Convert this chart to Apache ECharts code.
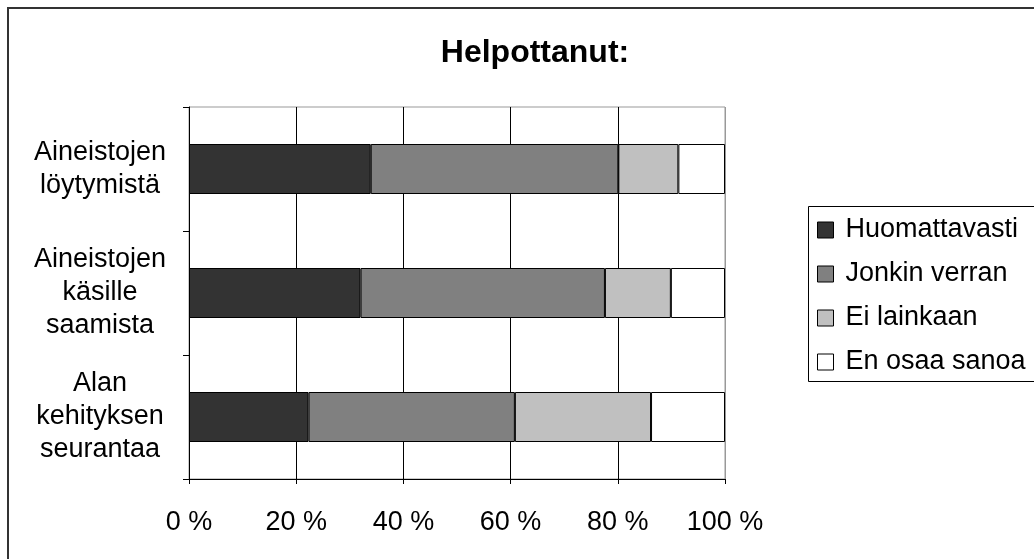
<!DOCTYPE html>
<html>
<head>
<meta charset="utf-8">
<script src="https://cdn.jsdelivr.net/npm/echarts@6/dist/echarts.min.js"></script>
<style>
html,body{margin:0;padding:0;background:#fff;}
#chart{width:1034px;height:559px;}
</style>
</head>
<body>
<div id="chart"></div>
<script>
const titleText = 'Helpottanut:';
const categories = ['Aineistojen\nlöytymistä', 'Aineistojen\nkäsille\nsaamista', 'Alan\nkehityksen\nseurantaa'];
const seriesNames = ['Huomattavasti', 'Jonkin verran', 'Ei lainkaan', 'En osaa sanoa'];
const huomattavasti = [33.9, 32.0, 22.3];
const jonkinVerran = [46.2, 45.6, 38.5];
const eiLainkaan = [11.2, 12.3, 25.4];
const enOsaaSanoa = [8.7, 10.1, 13.8];
const seriesColors = ['#333333', '#808080', '#c0c0c0', '#ffffff'];

const values = [huomattavasti, jonkinVerran, eiLainkaan, enOsaaSanoa];
const FONT = 'Liberation Sans, Arial, sans-serif';

const chart = echarts.init(document.getElementById('chart'), null, {renderer: 'canvas'});
chart.setOption({
  backgroundColor: '#ffffff',
  animation: false,
  title: {
    text: titleText,
    left: 530,
    textAlign: 'center',
    top: 32,
    textStyle: {fontFamily: FONT, fontSize: 32, fontWeight: 'bold', color: '#000'}
  },
  graphic: [
    {type: 'rect', shape: {x: 8, y: 8, width: 1040, height: 560}, style: {fill: 'none', stroke: '#333', lineWidth: 2}, silent: true},
    {type: 'rect', shape: {x: 808.5, y: 206.5, width: 240, height: 175}, style: {fill: '#fff', stroke: '#000', lineWidth: 1}, silent: true, z: -1}
  ],
  legend: {
    orient: 'vertical',
    left: 817,
    top: 214,
    padding: 0,
    itemWidth: 16,
    itemHeight: 16,
    itemGap: 12,
    icon: 'rect',
    data: seriesNames,
    itemStyle: {borderColor: '#000', borderWidth: 1},
    textStyle: {fontFamily: FONT, fontSize: 27, color: '#000', lineHeight: 32, padding: [0, 0, 0, 7]}
  },
  grid: {
    left: 189, right: 309, top: 107, bottom: 80,
    show: true, borderColor: '#999', borderWidth: 1, backgroundColor: 'transparent'
  },
  xAxis: {
    type: 'value',
    min: 0, max: 100, interval: 20,
    axisLine: {show: true, lineStyle: {color: '#000', width: 1}},
    axisTick: {show: true, length: 5, lineStyle: {color: '#000'}},
    splitLine: {show: true, lineStyle: {color: ['#000', '#000', '#000', '#000', '#000', '#999'], width: 1}},
    axisLabel: {formatter: '{value} %', fontFamily: FONT, fontSize: 27, color: '#000', margin: 30}
  },
  yAxis: {
    type: 'category',
    inverse: true,
    data: categories,
    axisLine: {show: true, lineStyle: {color: '#000', width: 1}},
    axisTick: {show: true, length: 6, lineStyle: {color: '#000'}},
    splitLine: {show: false},
    axisLabel: {fontFamily: FONT, fontSize: 27, lineHeight: 33, color: '#000', align: 'center', margin: 89}
  },
  series: seriesNames.map((name, i) => ({
    name: name,
    type: 'bar',
    stack: 'total',
    barWidth: 50,
    data: values[i],
    itemStyle: {color: seriesColors[i], borderColor: '#000', borderWidth: 1}
  }))
});
</script>
</body>
</html>
